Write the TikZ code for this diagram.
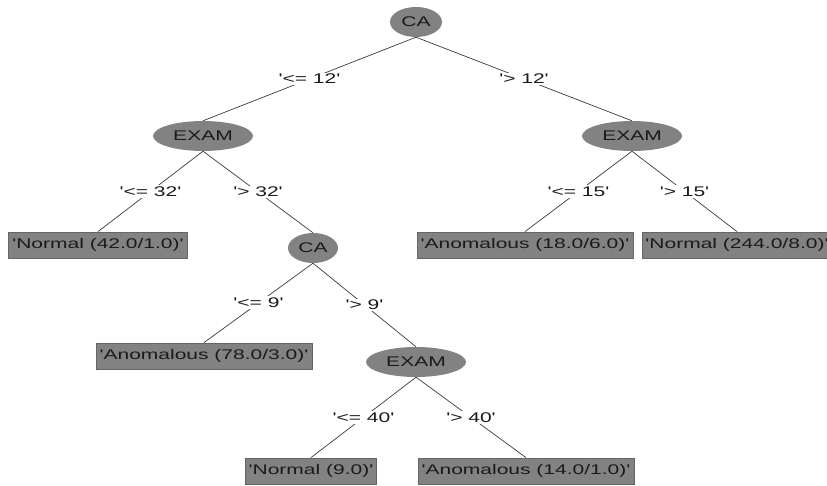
\documentclass[tikz,border=0pt]{standalone}
\usepackage{fontspec}
\usepackage{xcolor}
\usepackage{tikz}
\usetikzlibrary{shapes.geometric}
\newfontfamily\wekafont[FakeStretch=1.5]{Liberation Sans}
\definecolor{ink}{HTML}{1A1A1A}
\definecolor{edgegray}{HTML}{3A3A3A}
\definecolor{nodegray}{HTML}{828282}
\definecolor{rimgray}{HTML}{666666}
\tikzset{
  attr/.style={ellipse,fill=nodegray,inner sep=0pt,minimum height=30pt,text=ink,font=\wekafont\fontsize{14}{16}\selectfont},
  leaf/.style={rectangle,fill=nodegray,draw=rimgray,line width=.8pt,inner xsep=3.5pt,inner ysep=0pt,minimum height=26pt,text=ink,font=\wekafont\fontsize{14}{16}\selectfont},
  cond/.style={fill=white,inner sep=1.5pt,text=ink,font=\wekafont\fontsize{14}{16}\selectfont},
  branch/.style={draw=edgegray,line width=.7pt},
}
\begin{document}
\begin{tikzpicture}[x=1pt,y=-1pt]
  \useasboundingbox (0,0) rectangle (827,486);
  % split nodes
  \node[attr,minimum width=52pt] (ca1) at (416,22) {CA};
  \node[attr,minimum width=100pt] (exam1) at (203,136) {EXAM};
  \node[attr,minimum width=100pt] (exam2) at (632,136) {EXAM};
  \node[attr,minimum width=50pt] (ca2) at (313,248) {CA};
  \node[attr,minimum width=100pt] (exam3) at (416,362) {EXAM};
  % leaves
  \node[leaf] (normalA) at (98,245) {'Normal (42.0/1.0)'};
  \node[leaf] (anomA) at (525,245) {'Anomalous (18.0/6.0)'};
  \node[leaf] (normalB) at (737,245) {'Normal (244.0/8.0)'};
  \node[leaf] (anomB) at (204,356) {'Anomalous (78.0/3.0)'};
  \node[leaf] (normalC) at (311,471) {'Normal (9.0)'};
  \node[leaf] (anomC) at (526,471) {'Anomalous (14.0/1.0)'};
  % branches
  \draw[branch] (ca1.south) -- node[cond] {'<= 12'} (exam1.north);
  \draw[branch] (ca1.south) -- node[cond] {'> 12'} (exam2.north);
  \draw[branch] (exam1.south) -- node[cond] {'<= 32'} (normalA.north);
  \draw[branch] (exam1.south) -- node[cond] {'> 32'} (ca2.north);
  \draw[branch] (exam2.south) -- node[cond] {'<= 15'} (anomA.north);
  \draw[branch] (exam2.south) -- node[cond] {'> 15'} (normalB.north);
  \draw[branch] (ca2.south) -- node[cond] {'<= 9'} (anomB.north);
  \draw[branch] (ca2.south) -- node[cond] {'> 9'} (exam3.north);
  \draw[branch] (exam3.south) -- node[cond] {'<= 40'} (normalC.north);
  \draw[branch] (exam3.south) -- node[cond] {'> 40'} (anomC.north);
\end{tikzpicture}
\end{document}
